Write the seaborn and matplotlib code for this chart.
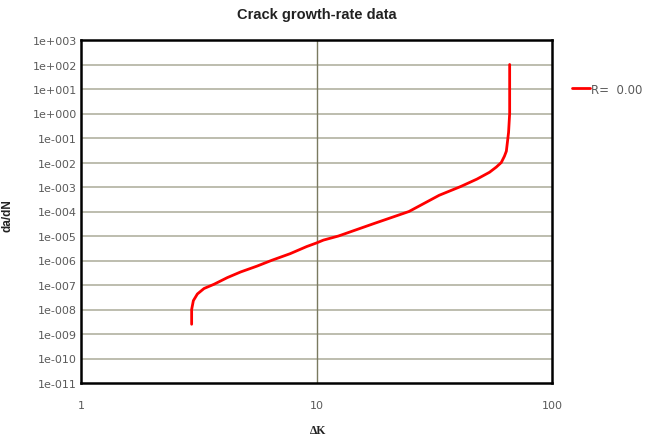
import matplotlib
matplotlib.use("Agg")
import matplotlib.pyplot as plt
import matplotlib.ticker as mticker
import seaborn as sns
import pandas as pd
import numpy as np

# Data
delta_k = [2.95, 2.95, 3.00, 3.12, 3.33, 3.67, 4.18, 4.76, 5.59, 6.46, 7.73, 9.08,
           10.0, 10.7, 12.4, 17.5, 24.7, 33.2, 41.0, 48.0, 54.3, 58.0, 60.9, 62.8,
           64.0, 65.4, 66.1, 66.1]
dadn = [2.5e-9, 1e-8, 2.3e-8, 4.3e-8, 7.2e-8, 1.07e-7, 2.0e-7, 3.4e-7, 5.9e-7,
        1.02e-6, 1.9e-6, 3.7e-6, 5.2e-6, 6.8e-6, 1e-5, 3.2e-5, 1e-4, 4.6e-4,
        1.05e-3, 2.1e-3, 4e-3, 6.5e-3, 1e-2, 1.8e-2, 2.9e-2, 0.17, 1.0, 100.0]
series_label = "R=  0.00"
y_ticks = [10.0 ** e for e in range(-11, 4)]
x_ticks = [1, 10, 100]

sns.set_theme(style="white")
plt.rcParams['font.family'] = ['DejaVu Sans']

df = pd.DataFrame({"dK": delta_k, "dadN": dadn, "series": series_label})

fig = plt.figure(figsize=(6.64, 4.39), dpi=100)
ax = fig.add_axes([81 / 664, 1 - 384 / 439, (552 - 81) / 664, (384 - 41) / 439])

sns.lineplot(data=df, x="dK", y="dadN", hue="series", palette=["#ff0000"],
             sort=False, estimator=None, linewidth=2.0, ax=ax)

ax.set_xscale("log")
ax.set_yscale("log")
ax.set_xlim(1, 100)
ax.set_ylim(1e-11, 1e3)

ax.set_yticks(y_ticks)
ax.yaxis.set_major_formatter(mticker.FuncFormatter(
    lambda v, p: "1e{}{:03d}".format("+" if v >= 1 else "-", abs(int(round(np.log10(v)))))))
ax.yaxis.set_minor_locator(mticker.NullLocator())
ax.set_xticks(x_ticks)
ax.xaxis.set_major_formatter(mticker.FuncFormatter(lambda v, p: "{:g}".format(v)))
ax.xaxis.set_minor_locator(mticker.NullLocator())

ax.tick_params(axis="both", length=0, labelsize=8, colors="#5a5a5a")
ax.tick_params(axis="y", pad=3)
ax.tick_params(axis="x", pad=12)

for v in y_ticks[1:-1]:
    ax.axhline(v, color="#b8b8a8", linewidth=1.3, zorder=0)
ax.axvline(10, color="#7a7a60", linewidth=1.0, zorder=0)

for s in ax.spines.values():
    s.set_color("black")
    s.set_linewidth(1.8)

ax.set_title("Crack growth-rate data", fontsize=10.5, fontweight="bold",
             color="#222222", pad=16, family=["Liberation Sans", "DejaVu Sans"])
ax.set_ylabel("da/dN", fontsize=8.5, fontweight="bold", color="#222222",
              family=["Liberation Sans", "DejaVu Sans"])
ax.yaxis.set_label_coords(-0.144, 0.49)
ax.set_xlabel("ΔK", fontsize=8.5, fontweight="bold", color="#222222",
              family=["Liberation Serif", "DejaVu Serif"])
ax.xaxis.set_label_coords(0.503, -0.12)

leg = ax.legend(loc="center left", bbox_to_anchor=(1.0425, 0.857), frameon=False,
                fontsize=8.5, handlelength=1.5, handletextpad=0.1,
                borderaxespad=0, borderpad=0)
for t in leg.get_texts():
    t.set_color("#5a5a5a")

fig.savefig("out.png", dpi=100)
